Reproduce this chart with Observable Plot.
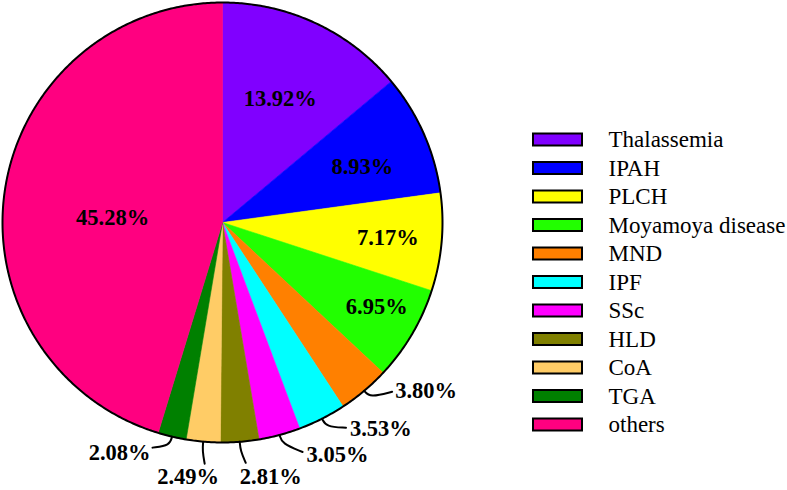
<!DOCTYPE html>
<html>
<head>
<meta charset="utf-8">
<script src="https://cdn.jsdelivr.net/npm/d3@7"></script>
<script src="https://cdn.jsdelivr.net/npm/@observablehq/plot@0.6"></script>
<style>
  html, body { margin: 0; padding: 0; background: #fff; }
  #chart { width: 787px; height: 490px; }
</style>
</head>
<body>
<div id="chart"></div>
<script>
// ---- data ----
const categories = ["Thalassemia", "IPAH", "PLCH", "Moyamoya disease", "MND", "IPF", "SSc", "HLD", "CoA", "TGA", "others"];
const percents = [13.92, 8.93, 7.17, 6.95, 3.80, 3.53, 3.05, 2.81, 2.49, 2.08, 45.28];
const colors = ["#8000ff", "#0000ff", "#ffff00", "#22ff00", "#ff8000", "#00ffff", "#ff00ff", "#808000", "#ffcc66", "#008000", "#ff0080"];

// ---- layout (pixels) ----
const W = 787, H = 490;
const cx = 222, cy = 222, R = 220;
const legendX = 533, legendW = 49, legendH = 12, legendY0 = 139.5, legendStep = 28.5, legendTextX = 608;
const insideLayout = { // [radius fraction, angle nudge in degrees]
  "Thalassemia": [0.62, 0], "IPAH": [0.685, 2], "PLCH": [0.755, 0.3],
  "Moyamoya disease": [0.8, -1.8], "others": [0.5, -5.9]
};
const outsideLayout = { // leader end offset from slice edge, text offset from leader end
  "MND": {end: [28, 1], text: [3, -1], anchor: "start"},
  "IPF": {end: [24, 9], text: [4, 1], anchor: "start"},
  "SSc": {end: [23, 17], text: [4, 3], anchor: "start"},
  "HLD": {end: [6, 21], text: [25, 13.5], anchor: "middle"},
  "CoA": {end: [1.5, 22], text: [-16.5, 13], anchor: "middle"},
  "TGA": {end: [-19.5, 11], text: [-2, 5], anchor: "end"}
};
const serif = "'Liberation Serif', 'Times New Roman', serif";

// ---- geometry ----
const total = d3.sum(percents);
function pt(angleDeg, rad) {
  const a = angleDeg * Math.PI / 180;
  return [cx + rad * Math.sin(a), cy - rad * Math.cos(a)];
}
let cum = 0;
const slices = categories.map((name, i) => {
  const a0 = cum / total * 360;
  cum += percents[i];
  const a1 = cum / total * 360;
  return {name, value: percents[i], a0, a1, mid: (a0 + a1) / 2, label: percents[i].toFixed(2) + "%"};
});

const slicePts = [];
for (const s of slices) {
  slicePts.push({name: s.name, x: cx, y: cy});
  for (let a = s.a0; a < s.a1; a += 0.25) {
    const [x, y] = pt(a, R);
    slicePts.push({name: s.name, x, y});
  }
  const [x, y] = pt(s.a1, R);
  slicePts.push({name: s.name, x, y});
  slicePts.push({name: s.name, x: cx, y: cy});
}

const circlePts = d3.range(0, 360.5, 0.5).map(a => { const [x, y] = pt(a, R); return {x, y}; });

const insideLabels = slices.filter(s => insideLayout[s.name]).map(s => {
  const [f, da] = insideLayout[s.name];
  const [x, y] = pt(s.mid + da, R * f);
  return {x, y, label: s.label};
});

const leaderPts = [];
const outsideLabels = [];
for (const s of slices) {
  const L = outsideLayout[s.name];
  if (!L) continue;
  const p0 = pt(s.mid, R);
  const p1 = pt(s.mid, R + 9);
  const p2 = [p0[0] + L.end[0], p0[1] + L.end[1]];
  leaderPts.push({name: s.name, x: p0[0], y: p0[1]}, {name: s.name, x: p1[0], y: p1[1]}, {name: s.name, x: p2[0], y: p2[1]});
  outsideLabels.push({x: p2[0] + L.text[0], y: p2[1] + L.text[1], label: s.label, anchor: L.anchor});
}

const labelStyle = {text: "label", fontWeight: "bold", fontSize: 22.5, fontFamily: serif, fill: "#000"};

const chart = Plot.plot({
  width: W,
  height: H,
  margin: 0,
  x: {domain: [0, W], range: [0, W], axis: null},
  y: {domain: [0, H], range: [0, H], axis: null},
  color: {domain: categories, range: colors},
  style: {background: "#fff", fontFamily: serif, fontSize: "22px", color: "#000"},
  marks: [
    Plot.line(slicePts, {x: "x", y: "y", z: "name", fill: "name", stroke: "name", strokeWidth: 0.6}),
    Plot.line(circlePts, {x: "x", y: "y", stroke: "#000", strokeWidth: 2}),
    Plot.line(leaderPts, {x: "x", y: "y", z: "name", stroke: "#000", strokeWidth: 2, curve: "basis"}),
    Plot.text(insideLabels, {x: "x", y: "y", ...labelStyle}),
    Plot.text(outsideLabels.filter(d => d.anchor === "start"), {x: "x", y: "y", textAnchor: "start", ...labelStyle}),
    Plot.text(outsideLabels.filter(d => d.anchor === "middle"), {x: "x", y: "y", textAnchor: "middle", ...labelStyle}),
    Plot.text(outsideLabels.filter(d => d.anchor === "end"), {x: "x", y: "y", textAnchor: "end", ...labelStyle}),
    Plot.rect(categories, {
      x1: () => legendX, x2: () => legendX + legendW,
      y1: (d, i) => legendY0 + i * legendStep - legendH / 2,
      y2: (d, i) => legendY0 + i * legendStep + legendH / 2,
      fill: d => d, stroke: "#000", strokeWidth: 2
    }),
    Plot.text(categories, {
      x: () => legendTextX, y: (d, i) => legendY0 + i * legendStep,
      text: d => d, textAnchor: "start", fontSize: 23, fontFamily: serif, fill: "#000"
    })
  ]
});
document.getElementById("chart").appendChild(chart);
</script>
</body>
</html>
